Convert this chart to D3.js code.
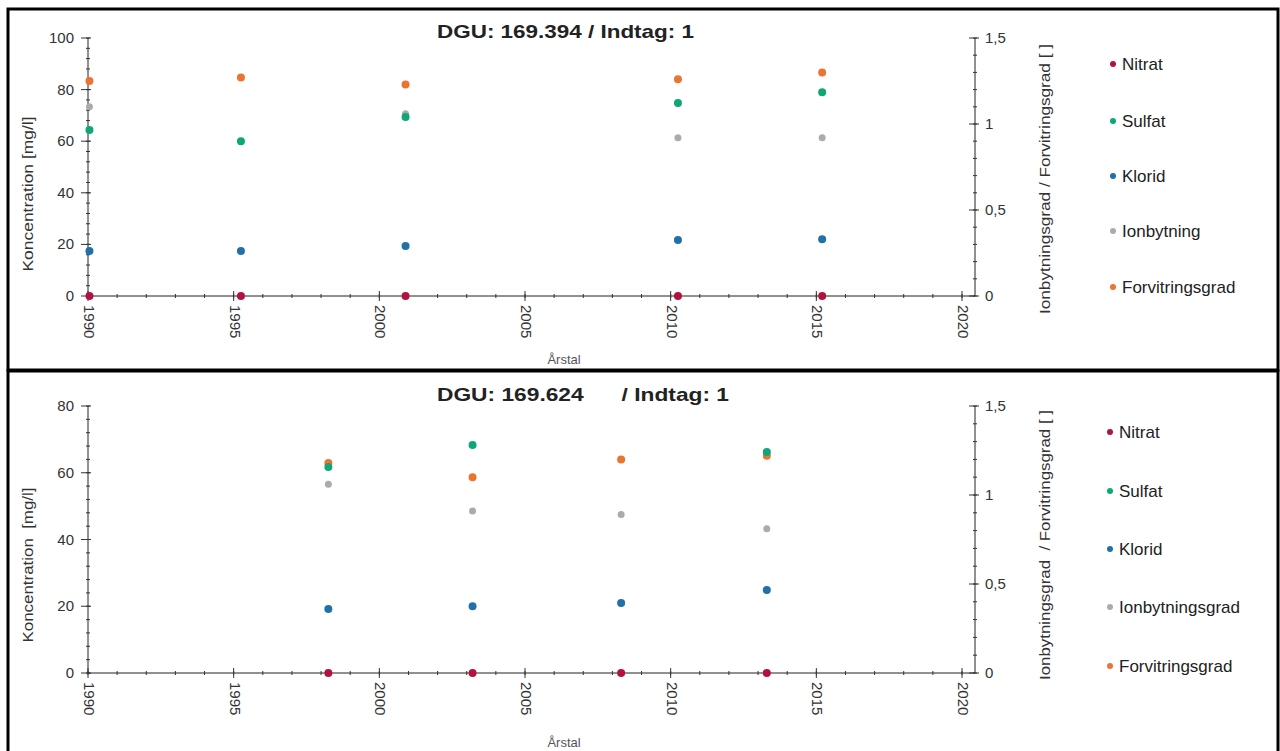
<!DOCTYPE html>
<html>
<head>
<meta charset="utf-8">
<script src="https://cdn.jsdelivr.net/npm/d3@7"></script>
<style>
  body { margin: 0; background: #fff; }
  text { font-family: "Liberation Sans", Arial, sans-serif; }
</style>
</head>
<body>
<script>
// series names and colours
var seriesNames = ['Nitrat', 'Sulfat', 'Klorid', 'Ionbytning', 'Forvitringsgrad'];
var seriesNames2 = ['Nitrat', 'Sulfat', 'Klorid', 'Ionbytningsgrad', 'Forvitringsgrad'];
var colors = ['#b3123f', '#0fa678', '#2170a8', '#ababab', '#ea7430'];

// top panel: DGU 169.394
var topYears = [1990.05, 1995.25, 2000.9, 2010.25, 2015.2];
var topNitrat = [0, 0, 0, 0, 0];
var topSulfat = [64.3, 60, 69.4, 74.8, 79];
var topKlorid = [17.4, 17.4, 19.4, 21.7, 22];
var topIonbytning = [1.10, null, 1.06, 0.92, 0.92];
var topForvitring = [1.25, 1.27, 1.23, 1.26, 1.30];

// bottom panel: DGU 169.624
var botYears = [1998.25, 2003.2, 2008.3, 2013.3];
var botNitrat = [0, 0, 0, 0];
var botSulfat = [61.7, 68.3, null, 66.2];
var botKlorid = [19.2, 20, 21, 24.9];
var botIonbytning = [1.06, 0.91, 0.89, 0.81];
var botForvitring = [1.18, 1.10, 1.20, 1.22];

var xTicks = [1990, 1995, 2000, 2005, 2010, 2015, 2020];
var topLeftTicks = [0, 20, 40, 60, 80, 100];
var botLeftTicks = [0, 20, 40, 60, 80];
var rightTicks = [0, 0.5, 1, 1.5];

var svg = d3.select('body').append('svg')
  .attr('width', 1280).attr('height', 751);

function drawPanel(p) {
  var g = svg.append('g');

  var x = d3.scaleLinear().domain([1990, 2020]).range([88, 962]);
  var yL = d3.scaleLinear().domain([0, p.leftMax]).range([p.y0, p.y1]);
  var yR = d3.scaleLinear().domain([0, 1.5]).range([p.y0, p.y1]);
  var axisRight = 975;

  // axis lines
  g.append('line').attr('x1', 88).attr('x2', axisRight).attr('y1', p.y0).attr('y2', p.y0).attr('stroke', '#222');
  g.append('line').attr('x1', 88).attr('x2', 88).attr('y1', p.y0).attr('y2', p.y1).attr('stroke', '#222');
  g.append('line').attr('x1', axisRight).attr('x2', axisRight).attr('y1', p.y0).attr('y2', p.y1).attr('stroke', '#222');

  // x ticks
  var xMinor = d3.range(1990, 2021, 1);
  g.selectAll('.xm').data(xMinor).enter().append('line')
    .attr('x1', x).attr('x2', x).attr('y1', p.y0 - 2).attr('y2', p.y0 + 2).attr('stroke', '#333');
  g.selectAll('.xM').data(xTicks).enter().append('line')
    .attr('x1', x).attr('x2', x).attr('y1', p.y0 - 5).attr('y2', p.y0 + 5).attr('stroke', '#333');
  g.selectAll('.xl').data(xTicks).enter().append('text')
    .attr('transform', function(d) { return 'translate(' + (x(d) - 4) + ',' + (p.y0 + 9) + ') rotate(90)'; })
    .attr('font-size', 15).attr('fill', '#333').text(function(d) { return d; });

  // left ticks
  var lMinor = d3.range(0, p.leftMax + 0.01, 4);
  g.selectAll('.lm').data(lMinor).enter().append('line')
    .attr('x1', 86).attr('x2', 90).attr('y1', yL).attr('y2', yL).attr('stroke', '#333');
  g.selectAll('.lM').data(p.leftTicks).enter().append('line')
    .attr('x1', 81).attr('x2', 91).attr('y1', yL).attr('y2', yL).attr('stroke', '#333');
  g.selectAll('.ll').data(p.leftTicks).enter().append('text')
    .attr('x', 74).attr('y', function(d) { return yL(d) + 5; })
    .attr('text-anchor', 'end').attr('font-size', 15).attr('fill', '#333').text(function(d) { return d; });

  // right ticks
  var rMinor = d3.range(0, 1.51, 0.1);
  g.selectAll('.rm').data(rMinor).enter().append('line')
    .attr('x1', axisRight - 2).attr('x2', axisRight + 2).attr('y1', yR).attr('y2', yR).attr('stroke', '#333');
  g.selectAll('.rM').data(rightTicks).enter().append('line')
    .attr('x1', axisRight - 6).attr('x2', axisRight + 4).attr('y1', yR).attr('y2', yR).attr('stroke', '#333');
  g.selectAll('.rl').data(rightTicks).enter().append('text')
    .attr('x', axisRight + 10).attr('y', function(d) { return yR(d) + 5; })
    .attr('font-size', 15).attr('fill', '#333').text(function(d) { return String(d).replace('.', ','); });

  // axis titles
  g.append('text').attr('transform', 'translate(33,' + p.leftTitleY + ') rotate(-90)')
    .attr('text-anchor', 'middle').attr('font-size', 15).attr('fill', '#333')
    .attr('textLength', 155).attr('lengthAdjust', 'spacingAndGlyphs').attr('xml:space', 'preserve')
    .text(p.leftTitle);
  g.append('text').attr('transform', 'translate(1050,' + p.rightTitleY + ') rotate(-90)')
    .attr('text-anchor', 'middle').attr('font-size', 15).attr('fill', '#333')
    .attr('textLength', 270).attr('lengthAdjust', 'spacingAndGlyphs').attr('xml:space', 'preserve')
    .text(p.rightTitle);
  g.append('text').attr('x', 564).attr('y', p.xTitleY).attr('text-anchor', 'middle')
    .attr('font-size', 13).attr('fill', '#555').text('Årstal');

  // title
  g.append('text').attr('x', 437).attr('y', p.titleY).attr('font-size', 19)
    .attr('font-weight', 'bold').attr('fill', '#222').attr('xml:space', 'preserve')
    .attr('textLength', p.titleLen).attr('lengthAdjust', 'spacingAndGlyphs')
    .text(p.title);

  // points
  var order = [4, 3, 1, 2, 0];
  order.forEach(function(si) {
    var s = p.series[si];
    var scale = si >= 3 ? yR : yL;
    var pts = p.years.map(function(yr, i) { return {x: yr, v: s[i]}; })
      .filter(function(d) { return d.v != null; });
    g.selectAll('.pt' + si).data(pts).enter().append('circle')
      .attr('cx', function(d) { return x(d.x); })
      .attr('cy', function(d) { return scale(d.v); })
      .attr('r', si == 3 ? 3.5 : 4)
      .attr('fill', colors[si]);
  });

  // legend
  p.legendNames.forEach(function(name, i) {
    var ly = p.legendY[i];
    g.append('circle').attr('cx', p.legendX).attr('cy', ly - 6).attr('r', 3).attr('fill', colors[i]);
    g.append('text').attr('x', p.legendX + 9).attr('y', ly).attr('font-size', 17)
      .attr('fill', '#222').text(name);
  });
}

drawPanel({
  y0: 296, y1: 38, leftMax: 100, leftTicks: topLeftTicks,
  years: topYears, series: [topNitrat, topSulfat, topKlorid, topIonbytning, topForvitring],
  title: 'DGU: 169.394 / Indtag: 1', titleY: 38, titleLen: 257,
  leftTitle: 'Koncentration [mg/l]', leftTitleY: 194,
  rightTitle: 'Ionbytningsgrad / Forvitringsgrad [ ]', rightTitleY: 179,
  xTitleY: 364,
  legendNames: seriesNames, legendX: 1113, legendY: [70, 127, 182, 237, 293]
});

drawPanel({
  y0: 673, y1: 406, leftMax: 80, leftTicks: botLeftTicks,
  years: botYears, series: [botNitrat, botSulfat, botKlorid, botIonbytning, botForvitring],
  title: 'DGU: 169.624      / Indtag: 1', titleY: 401, titleLen: 292,
  leftTitle: 'Koncentration  [mg/l]', leftTitleY: 565,
  rightTitle: 'Ionbytningsgrad  / Forvitringsgrad [ ]', rightTitleY: 545,
  xTitleY: 747,
  legendNames: seriesNames2, legendX: 1110, legendY: [438, 497, 555, 613, 672]
});

// panel borders
svg.append('rect').attr('x', 8).attr('y', 9).attr('width', 1270).attr('height', 361)
  .attr('fill', 'none').attr('stroke', '#000').attr('stroke-width', 3);
svg.append('rect').attr('x', 8).attr('y', 371).attr('width', 1270).attr('height', 385)
  .attr('fill', 'none').attr('stroke', '#000').attr('stroke-width', 3);
</script>
</body>
</html>
